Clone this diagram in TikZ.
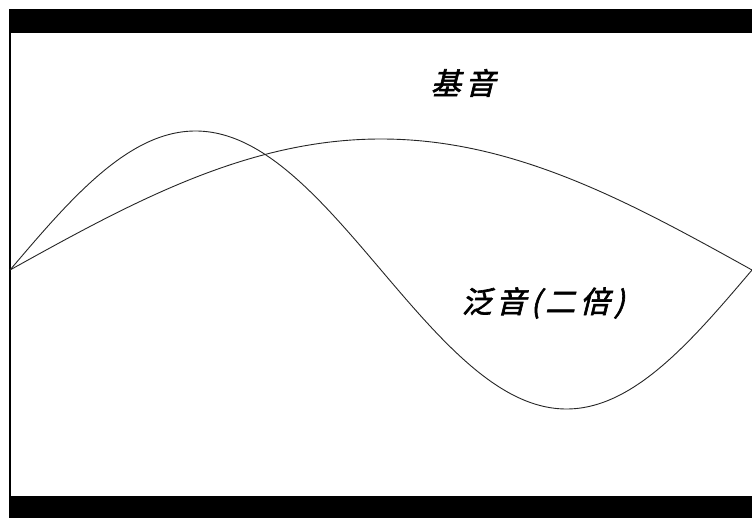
\documentclass[tikz,border=0pt]{standalone}
\usepackage{fontspec}
\newfontfamily\cjk[FakeSlant=0.25,FakeBold=2,LetterSpace=15]{Noto Sans CJK SC}
\begin{document}
\begin{tikzpicture}[x=1pt,y=-1pt,
  wave/.style={line width=0.9pt, black!85},
  lbl/.style={font=\cjk\fontsize{30}{32}\selectfont, inner sep=0pt}]
\useasboundingbox (0,0) rectangle (752,518);
\fill[white] (0,0) rectangle (752,518);
\fill[black] (9,9) rectangle (752,33);
\fill[black] (9,496) rectangle (752,518);
\draw[line width=1.3pt] (10,33) -- (10,496);
\draw[wave] plot[domain=10:752, samples=200, smooth] (\x, {270-131*sin((\x-10)/742*180)});
\draw[wave] plot[domain=10:752, samples=300, smooth] (\x, {270-139*sin((\x-10)/742*360)});
\node[lbl] (fund) at (463,83) {基音};
\node[lbl] (harm) at (543,303) {泛音(二倍)};
\end{tikzpicture}
\end{document}
